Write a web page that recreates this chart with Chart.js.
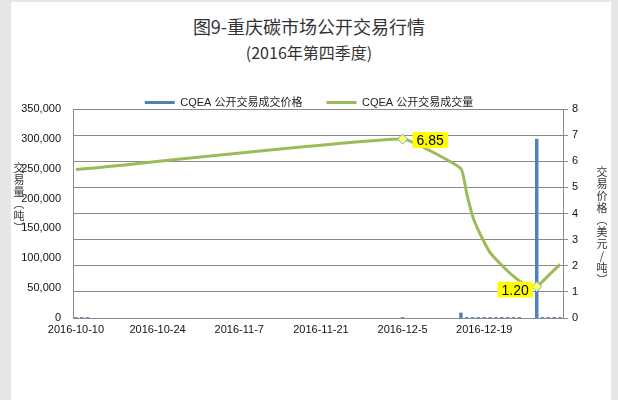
<!DOCTYPE html>
<html>
<head>
<meta charset="utf-8">
<script src="https://cdn.jsdelivr.net/npm/chart.js@4.4.0/dist/chart.umd.min.js"></script>
<style>
html, body { margin: 0; padding: 0; width: 618px; height: 400px; overflow: hidden; background: #e6e6e6; }
#card { position: absolute; left: 11px; top: 2px; width: 600px; height: 398px; background: #fff; }
#wrap { position: absolute; left: 0; top: 0; width: 618px; height: 400px; }
.ttl { position: absolute; left: 0; width: 618px; text-align: center; font-family: "Noto Sans CJK SC"; color: #333; line-height: 1; }
.axt { position: absolute; writing-mode: vertical-rl; font-family: "Noto Sans CJK SC"; font-size: 11px; color: #333; line-height: 1; letter-spacing: 1px; }
.up { text-orientation: upright; }
</style>
</head>
<body>
<div id="card"></div>
<div class="ttl" style="top:17px;font-size:18px;">图9-重庆碳市场公开交易行情</div>
<div class="ttl" style="top:44px;font-size:16px;">(2016年第四季度)</div>
<div id="wrap"><canvas id="myChart"></canvas></div>
<div class="axt" style="left:13px;top:162px;">交易量（吨）</div>
<div class="axt" style="left:596px;top:166px;">交易价格（美元<span class="up">/</span>吨）</div>
<script>
// trading days and values
var tradeDates = ["2016-10-10", "2016-10-11", "2016-10-12", "2016-12-5",
    "2016-12-15", "2016-12-16", "2016-12-17", "2016-12-18", "2016-12-19", "2016-12-20",
    "2016-12-21", "2016-12-22", "2016-12-23", "2016-12-24", "2016-12-25", "2016-12-26",
    "2016-12-27", "2016-12-28", "2016-12-29", "2016-12-30", "2016-12-31", "2017-1-1"];
var volumeTons = [1500, 1500, 1500, 1500,
    9000, 1500, 1500, 1500, 1500, 1500,
    1500, 1500, 1500, 1500, 1500, 0,
    0, 300000, 1500, 1500, 1500, 1500];
var priceUsd = [5.68, 5.70, 5.72, 6.85,
    5.72, 4.75, 3.90, 3.35, 2.90, 2.50,
    2.25, 2.02, 1.80, 1.60, 1.42, 1.30,
    1.23, 1.20, 1.40, 1.62, 1.84, 2.05];
var markedDates = ["2016-12-5", "2016-12-28"];
var seriesNames = ["CQEA 公开交易成交价格", "CQEA 公开交易成交量"];
var lastDay = "2017-1-1";
var volMax = 350000, volStep = 50000;
var priceMax = 8, priceStep = 1;

// every calendar day on the axis, from 2016-10-10
var days = [];
var d = new Date(2016, 9, 10);
while (true) {
    var s = d.getFullYear() + "-" + (d.getMonth() + 1) + "-" + d.getDate();
    days.push(s);
    if (s === lastDay) break;
    d.setDate(d.getDate() + 1);
}

var volData = days.map(function (x) {
    var i = tradeDates.indexOf(x);
    return i < 0 ? null : volumeTons[i];
});
var priceData = days.map(function (x) {
    var i = tradeDates.indexOf(x);
    return i < 0 ? null : priceUsd[i];
});
var isMarked = days.map(function (x) { return markedDates.indexOf(x) >= 0; });

// yellow value boxes next to the two marked points
var valueBoxes = {
    id: "valueBoxes",
    afterLayout: function (chart) {
        // pull legend down closer to the plot
        chart.legend.top += 9;
        chart.legend.bottom += 9;
    },
    afterDatasetsDraw: function (chart) {
        var ctx = chart.ctx;
        var meta = chart.getDatasetMeta(1);
        var n = 0;
        ctx.save();
        ctx.font = "14px 'Liberation Sans', Arial";
        ctx.textBaseline = "middle";
        ctx.textAlign = "center";
        for (var i = 0; i < days.length; i++) {
            if (!isMarked[i]) continue;
            var pt = meta.data[i];
            var txt = priceData[i].toFixed(2);
            var w = ctx.measureText(txt).width + 8, h = 16;
            var bx, by;
            if (n === 0) { bx = pt.x + 10; by = pt.y - 7; }
            else { bx = pt.x - 4 - w; by = pt.y - 5; }
            ctx.fillStyle = "#ffff00";
            ctx.fillRect(bx, by, w, h);
            ctx.fillStyle = "#000";
            ctx.fillText(txt, bx + w / 2, by + h / 2 + 1);
            n++;
        }
        ctx.restore();
    }
};

var myChart = document.getElementById("myChart").getContext("2d");
var comboChart = new Chart(myChart, {
    type: "bar",
    data: {
        labels: days,
        datasets: [{
            type: "bar",
            label: seriesNames[0],
            data: volData,
            yAxisID: "yVol",
            backgroundColor: "#4f81bd",
            borderWidth: 0,
            barPercentage: 0.6,
            categoryPercentage: 1
        }, {
            type: "line",
            label: seriesNames[1],
            data: priceData,
            yAxisID: "yPrice",
            order: -1,
            borderColor: "#9bbb59",
            backgroundColor: "#9bbb59",
            borderWidth: 3,
            spanGaps: true,
            tension: 0.12,
            pointStyle: "rectRot",
            pointRadius: isMarked.map(function (m) { return m ? 5 : 0; }),
            pointBackgroundColor: "#ffff66",
            pointBorderColor: "#7fa7d8",
            pointBorderWidth: 1
        }]
    },
    options: {
        responsive: true,
        maintainAspectRatio: false,
        animation: false,
        layout: { padding: { top: 64, left: 0, right: 0, bottom: 0 } },
        plugins: {
            tooltip: { enabled: false },
            legend: {
                position: "top",
                labels: {
                    boxWidth: 30,
                    boxHeight: 3,
                    padding: 24,
                    color: "#222",
                    font: { size: 11, family: "'Liberation Sans', Arial, 'Noto Sans CJK SC'" },
                    sort: function (a, b) { return a.datasetIndex - b.datasetIndex; },
                    generateLabels: function (chart) {
                        var items = Chart.defaults.plugins.legend.labels.generateLabels(chart);
                        items.forEach(function (it) { it.lineWidth = 0; });
                        return items;
                    }
                }
            }
        },
        scales: {
            x: {
                grid: { display: false, drawTicks: false },
                border: { display: true, color: "#8a8a8a" },
                afterFit: function (scale) { scale.height = 82; },
                ticks: {
                    autoSkip: false,
                    maxRotation: 0,
                    padding: 5,
                    color: "#111",
                    font: { size: 11, family: "'Liberation Sans', Arial" },
                    callback: function (v, i) { return i % 14 === 0 ? days[i] : ""; }
                }
            },
            yVol: {
                position: "left",
                min: 0,
                max: volMax,
                grid: { display: false, drawTicks: false },
                border: { display: true, color: "#8a8a8a" },
                afterFit: function (scale) { scale.width = 73; },
                ticks: {
                    stepSize: volStep,
                    padding: 12,
                    color: "#111",
                    font: { size: 11, family: "'Liberation Sans', Arial" },
                    callback: function (v) { return v.toLocaleString("en-US"); }
                }
            },
            yPrice: {
                position: "right",
                min: 0,
                max: priceMax,
                grid: { color: "#8a8a8a", tickLength: 5 },
                border: { display: true, color: "#8a8a8a" },
                afterFit: function (scale) { scale.width = 55; },
                ticks: {
                    stepSize: priceStep,
                    padding: 4,
                    color: "#111",
                    font: { size: 11, family: "'Liberation Sans', Arial" }
                }
            }
        }
    },
    plugins: [valueBoxes]
});
</script>
</body>
</html>
